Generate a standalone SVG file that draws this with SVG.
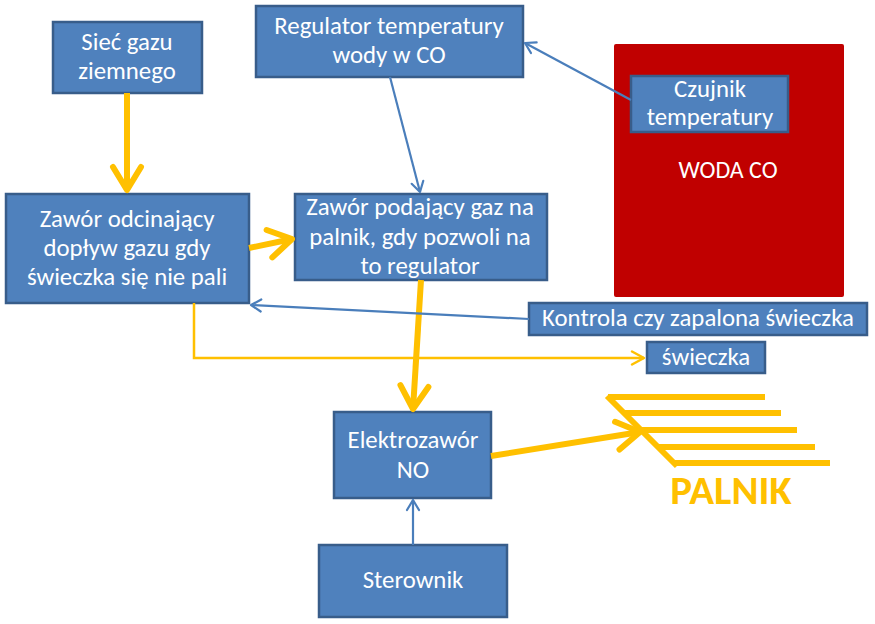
<svg xmlns="http://www.w3.org/2000/svg" width="875" height="624" viewBox="0 0 875 624">
<style>
.box{fill:#4F81BD;stroke:#385D8A;stroke-width:2.5}
.t{font-family:Carlito,Lato,"Liberation Sans",sans-serif;font-size:24.8px;fill:#fff;text-anchor:middle}
.yb{stroke:#FFC000;stroke-width:6;fill:none}
.ys{stroke:#FFC000;stroke-width:2.5;fill:none}
.bl{stroke:#4A7EBB;stroke-width:2.2;fill:none}
</style>
<defs>
<marker id="ayb" markerUnits="userSpaceOnUse" viewBox="-30 -20 34 40" markerWidth="34" markerHeight="40" refX="0" refY="0" orient="auto">
<path d="M-23,-14 L0,0 L-23,14" fill="none" stroke="#FFC000" stroke-width="6" stroke-linecap="round" stroke-linejoin="round"/>
</marker>
<marker id="ays" markerUnits="userSpaceOnUse" viewBox="-16 -10 20 20" markerWidth="20" markerHeight="20" refX="0" refY="0" orient="auto">
<path d="M-12,-6.5 L0,0 L-12,6.5" fill="none" stroke="#FFC000" stroke-width="2.5" stroke-linecap="round" stroke-linejoin="round"/>
</marker>
<marker id="abl" markerUnits="userSpaceOnUse" viewBox="-14 -10 18 20" markerWidth="18" markerHeight="20" refX="0" refY="0" orient="auto">
<path d="M-10,-6 L0,0 L-10,6" fill="none" stroke="#4A7EBB" stroke-width="2.2" stroke-linecap="round" stroke-linejoin="round"/>
</marker>
</defs>
<rect x="0" y="0" width="875" height="624" fill="#fff"/>

<g id="woda-co">
<rect x="614" y="44" width="230" height="253" rx="2" fill="#C00000"/>
<text x="728" y="178" class="t" style="font-size:24px">WODA CO</text>
</g>

<g id="siec-gazu">
<rect class="box" x="53" y="22" width="149" height="71"/>
<text class="t" x="127" y="50">Sieć gazu</text>
<text class="t" x="127" y="79">ziemnego</text>
</g>

<g id="regulator">
<rect class="box" x="256" y="6" width="267" height="71"/>
<text class="t" x="389" y="34">Regulator temperatury</text>
<text class="t" x="389" y="63">wody w CO</text>
</g>

<g id="czujnik">
<rect class="box" x="631" y="76" width="157" height="56"/>
<text class="t" x="710" y="97">Czujnik</text>
<text class="t" x="710" y="125">temperatury</text>
</g>

<g id="zawor-odcinajacy">
<rect class="box" x="6" y="194" width="243" height="109"/>
<text class="t" x="127" y="227">Zawór odcinający</text>
<text class="t" x="127" y="256">dopływ gazu gdy</text>
<text class="t" x="127" y="285">świeczka się nie pali</text>
</g>

<g id="zawor-podajacy">
<rect class="box" x="295" y="194" width="252" height="86"/>
<text class="t" x="420" y="215">Zawór podający gaz na</text>
<text class="t" x="420" y="245">palnik, gdy pozwoli na</text>
<text class="t" x="420" y="274">to regulator</text>
</g>

<g id="kontrola">
<rect class="box" x="529" y="303" width="338" height="32"/>
<text class="t" x="698" y="326">Kontrola czy zapalona świeczka</text>
</g>

<g id="swieczka">
<rect class="box" x="647" y="342" width="118" height="31"/>
<text class="t" x="706" y="365">świeczka</text>
</g>

<g id="elektrozawor">
<rect class="box" x="334" y="412" width="157" height="86"/>
<text class="t" x="413" y="448">Elektrozawór</text>
<text class="t" x="413" y="478">NO</text>
</g>

<g id="sterownik">
<rect class="box" x="319" y="545" width="188" height="72"/>
<text class="t" x="413" y="588">Sterownik</text>
</g>

<g id="palnik">
<g stroke="#FFC000" stroke-width="6" fill="none">
<line x1="608" y1="397" x2="765" y2="397"/>
<line x1="624" y1="413" x2="781" y2="413"/>
<line x1="641" y1="430" x2="797" y2="430"/>
<line x1="658" y1="447" x2="815" y2="447"/>
<line x1="674" y1="463" x2="830" y2="463"/>
<line x1="607" y1="396" x2="677" y2="466"/>
</g>
<text x="731" y="504" style="font-family:Carlito,Lato,'Liberation Sans',sans-serif;font-size:41px;font-weight:bold;fill:#FFC000;text-anchor:middle">PALNIK</text>
</g>

<g id="connectors">
<line class="yb" x1="127" y1="93" x2="127" y2="190" marker-end="url(#ayb)"/>
<line class="yb" x1="249" y1="248" x2="292" y2="239" marker-end="url(#ayb)"/>
<line class="yb" x1="421" y1="280" x2="413" y2="409" marker-end="url(#ayb)"/>
<line class="yb" x1="491" y1="456" x2="640" y2="432" marker-end="url(#ayb)"/>
<polyline class="ys" points="194,303 194,358 644,358" marker-end="url(#ays)"/>
<line class="bl" x1="390" y1="77" x2="420" y2="192" marker-end="url(#abl)"/>
<line class="bl" x1="631" y1="100" x2="525" y2="43" marker-end="url(#abl)"/>
<line class="bl" x1="529" y1="319" x2="251" y2="305" marker-end="url(#abl)"/>
<line class="bl" x1="413" y1="545" x2="413" y2="500" marker-end="url(#abl)"/>
</g>
</svg>
